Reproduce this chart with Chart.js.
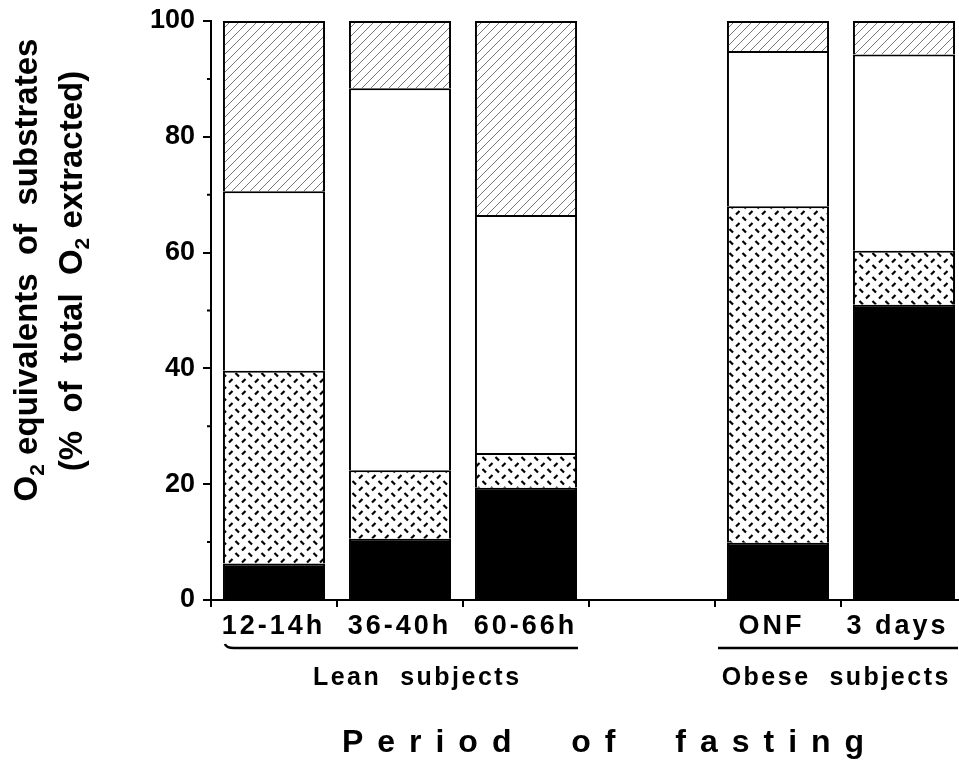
<!DOCTYPE html>
<html>
<head>
<meta charset="utf-8">
<script src="https://cdn.jsdelivr.net/npm/chart.js@4.4.0/dist/chart.umd.min.js"></script>
<style>
  html, body { margin: 0; padding: 0; background: #fff; overflow: hidden; }
  #wrap { position: absolute; left: 0; top: 0; width: 970px; height: 765px; }
</style>
</head>
<body>
<div id="wrap"><canvas id="myChart" width="970" height="765"></canvas></div>
<script>
// categories (4th one is the empty gap between lean and obese groups)
var categories = ['12-14h', '36-40h', '60-66h', '', 'ONF', '3 days'];
// stacked segments, bottom to top (% of total O2 extracted)
var blackValues   = [6.3, 10.6, 19.4, null, 9.9, 51.0];
var dottedValues  = [33.3, 11.8, 6.0, null, 58.1, 9.3];
var whiteValues   = [31.0, 66.0, 41.1, null, 26.8, 33.9];
var hatchedValues = [29.4, 11.6, 33.5, null, 5.2, 5.8];
var yTicks = [0, 20, 40, 60, 80, 100];
var groupLabels = ['Lean  subjects', 'Obese  subjects'];
var xTitle = 'Period  of  fasting';

var FONT = '"Liberation Sans", Arial, Helvetica, sans-serif';

// diagonal thin hatch pattern for the top segment
function hatchPattern() {
    var c = document.createElement('canvas');
    c.width = 9; c.height = 9;
    var g = c.getContext('2d');
    g.fillStyle = '#fff';
    g.fillRect(0, 0, 9, 9);
    g.strokeStyle = '#777';
    g.lineWidth = 1;
    g.beginPath();
    g.moveTo(-1, 10); g.lineTo(10, -1);
    g.stroke();
    return g.createPattern(c, 'repeat');
}

// dashed diamond pattern for the second segment
function dashPattern() {
    var c = document.createElement('canvas');
    c.width = 13; c.height = 12;
    var g = c.getContext('2d');
    g.fillStyle = '#fff';
    g.fillRect(0, 0, 13, 12);
    g.strokeStyle = '#000';
    g.lineWidth = 2.2;
    g.beginPath();
    g.moveTo(1.5, 1); g.lineTo(5, 4.5);
    g.moveTo(8, 10.5); g.lineTo(11.5, 7);
    g.stroke();
    return g.createPattern(c, 'repeat');
}

// draw text char by char with extra spacing
function spacedText(ctx, text, x, y, spacing) {
    var total = 0, i;
    for (i = 0; i < text.length; i++) total += ctx.measureText(text[i]).width;
    total += spacing * (text.length - 1);
    var cx = x - total / 2;
    ctx.textAlign = 'left';
    for (i = 0; i < text.length; i++) {
        ctx.fillText(text[i], cx, y);
        cx += ctx.measureText(text[i]).width + spacing;
    }
}

// rotated title line with subscript 2
function titleLine(ctx, runs, x, y) {
    ctx.save();
    ctx.translate(x, y);
    ctx.rotate(-Math.PI / 2);
    ctx.textBaseline = 'alphabetic';
    ctx.textAlign = 'left';
    var w = 0;
    runs.forEach(function(r) {
        ctx.font = r[1] ? 'bold 21px ' + FONT : 'bold 33px ' + FONT;
        w += ctx.measureText(r[0]).width;
    });
    var cx = -w / 2;
    runs.forEach(function(r) {
        ctx.font = r[1] ? 'bold 21px ' + FONT : 'bold 33px ' + FONT;
        ctx.fillText(r[0], cx, r[1] ? 7 : 0);
        cx += ctx.measureText(r[0]).width;
    });
    ctx.restore();
}

var decor = {
    id: 'decor',
    afterDraw: function(chart) {
        var ctx = chart.ctx;
        var xs = chart.scales.x, ys = chart.scales.y;
        var bottom = chart.chartArea.bottom;
        ctx.save();
        ctx.fillStyle = '#000';
        ctx.strokeStyle = '#000';

        // minor y ticks
        ctx.lineWidth = 2;
        ctx.beginPath();
        for (var v = 10; v < 100; v += 20) {
            var py = ys.getPixelForValue(v);
            ctx.moveTo(ys.right - 4, py);
            ctx.lineTo(ys.right, py);
        }
        ctx.stroke();

        // category labels
        ctx.font = 'bold 27px ' + FONT;
        ctx.textBaseline = 'alphabetic';
        categories.forEach(function(c, i) {
            if (c) spacedText(ctx, c, xs.getPixelForValue(i) - (i >= 4 ? 8 : 2), bottom + 34, 3);
        });

        // group brackets
        var p0 = xs.getPixelForValue(0), p2 = xs.getPixelForValue(2);
        var p4 = xs.getPixelForValue(4), p5 = xs.getPixelForValue(5);
        var by = bottom + 48;
        ctx.lineWidth = 2.5;
        ctx.beginPath();
        ctx.moveTo(p0 - 49, by - 4);
        ctx.quadraticCurveTo(p0 - 48, by, p0 - 40, by);
        ctx.lineTo(p2 + 52, by);
        ctx.moveTo(p4 - 60, by);
        ctx.lineTo(p5 + 54, by);
        ctx.stroke();

        ctx.font = 'bold 25px ' + FONT;
        spacedText(ctx, groupLabels[0], xs.getPixelForValue(1) + 16, bottom + 85, 2.5);
        spacedText(ctx, groupLabels[1], (p4 + p5) / 2 - 6, bottom + 85, 2.5);

        // x title
        ctx.font = 'bold 32px ' + FONT;
        spacedText(ctx, xTitle, 603, 752, 14);

        // y title
        titleLine(ctx, [['O', false], ['2', true], [' equivalents  of  substrates', false]], 37, 270);
        titleLine(ctx, [['(%  of  total  O', false], ['2', true], [' extracted)', false]], 82, 271);
        ctx.restore();
    }
};

var ctx = document.getElementById('myChart').getContext('2d');
var segStyle = { borderColor: '#000', borderWidth: 2, borderSkipped: 'bottom', barPercentage: 0.81, categoryPercentage: 1.0 };
var myChart = new Chart(ctx, {
    type: 'bar',
    data: {
        labels: categories,
        datasets: [
            Object.assign({ label: 'black', data: blackValues, backgroundColor: '#000' }, segStyle),
            Object.assign({ label: 'dotted', data: dottedValues, backgroundColor: dashPattern() }, segStyle),
            Object.assign({ label: 'white', data: whiteValues, backgroundColor: '#fff' }, segStyle),
            Object.assign({ label: 'hatched', data: hatchedValues, backgroundColor: hatchPattern() }, segStyle)
        ]
    },
    options: {
        responsive: false,
        animation: false,
        devicePixelRatio: 1,
        layout: { padding: { top: 21, right: 3, left: 0, bottom: 0 } },
        plugins: { legend: { display: false }, tooltip: { enabled: false } },
        scales: {
            x: {
                stacked: true,
                afterFit: function(s) { s.height = 165; },
                border: { display: true, color: '#000', width: 2 },
                grid: { display: true, offset: true, drawOnChartArea: false, tickLength: 7, color: '#000', lineWidth: 2 },
                ticks: { display: false }
            },
            y: {
                stacked: true,
                min: 0,
                max: 100,
                afterFit: function(s) { s.width = 211; },
                border: { display: true, color: '#000', width: 2 },
                grid: {
                    drawOnChartArea: false, tickLength: 8, lineWidth: 2,
                    tickColor: function(c) { return (c.tick && yTicks.indexOf(c.tick.value) >= 0) ? '#000' : 'rgba(0,0,0,0)'; }
                },
                ticks: {
                    stepSize: 10,
                    padding: 8,
                    color: '#000',
                    font: { family: FONT, size: 27, weight: 'bold', lineHeight: 0.9 },
                    callback: function(v) { return yTicks.indexOf(v) >= 0 ? v : ''; }
                }
            }
        }
    },
    plugins: [decor]
});
</script>
</body>
</html>
